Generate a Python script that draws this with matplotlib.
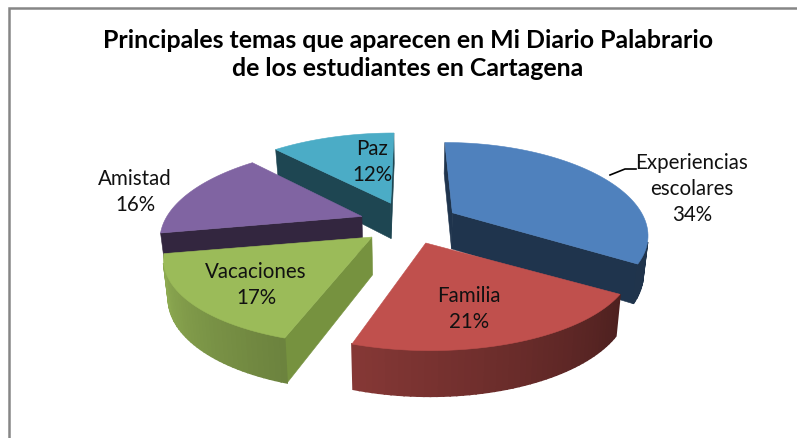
import numpy as np
import matplotlib
matplotlib.use("Agg")
import matplotlib.pyplot as plt
from matplotlib.patches import Polygon

# --- data ---
title_lines = ["Principales temas que aparecen en Mi Diario Palabrario",
               "de los estudiantes en Cartagena"]
categories = ["Experiencias\nescolares", "Familia", "Vacaciones", "Amistad", "Paz"]
values = [34, 21, 17, 16, 12]

# --- style ---
top_colors = ["#4F81BD", "#C0504D", "#9BBB59", "#8064A2", "#4BACC6"]
cut_colors = ["#1F344D", "#4E1E1C", "#76923F", "#33263F", "#1E4652"]
width_factors = [0.955, 1.02, 1.02, 0.985, 1.0]
draw_order = [4, 0, 3, 1, 2]
label_centers = [(692, 189), (469, 309), (256, 285), (135, 192), (372, 162)]
FONT = "Lato"

# --- projection of the exploded pie ---
CX, CY = 409.0, 223.0
A, B, K = 198.0, 85.0, 0.21
EXPLODE = 0.25


def shade(theta):
    return float(np.clip(0.40 + (theta - 122.0) * 0.0039, 0.40, 1.0))


def extrude(p):
    x, y = p
    return (CX + (x - CX) * 0.98, y + 36 + (y - 212) * 0.07)


def scale_color(c, f):
    rgb = np.array(matplotlib.colors.to_rgb(c))
    return tuple(rgb * f)


def front_facing(q):
    q = np.asarray(q)
    x, y = q[:, 0], q[:, 1]
    return np.sum(x * np.roll(y, -1) - np.roll(x, -1) * y) < 0


fig = plt.figure(figsize=(7.97, 4.38), dpi=100)
ax = fig.add_axes([0, 0, 1, 1])
ax.set_xlim(0, 797)
ax.set_ylim(438, 0)
ax.axis("off")

# chart frame (runs off the right and bottom of the picture)
ax.plot([800, 9.2, 9.2], [8, 8, 440], color="#868686", lw=1.8, solid_joinstyle="miter")

total = sum(values)
edges = np.concatenate([[0], np.cumsum(values)]) / total * 360.0


def slice_geometry(i):
    t0, t1 = edges[i], edges[i + 1]
    mid = np.radians((t0 + t1) / 2)
    ax0 = CX + A * EXPLODE * np.sin(mid)
    ay0 = CY - B * EXPLODE * np.cos(mid)
    thetas = np.linspace(t0, t1, max(int((t1 - t0) / 1.5), 2) + 1)
    r = np.radians(thetas)
    u, v = np.sin(r), np.cos(r)
    s = 1 / (1 + K * v)
    xs = CX + (ax0 - CX) * s + A * width_factors[i] * u * s
    ys = ay0 - B * v * s
    return (ax0, ay0), thetas, list(zip(xs, ys))


for i in draw_order:
    apex, thetas, rim = slice_geometry(i)
    z = 2 + draw_order.index(i) * 3
    # radial cut faces
    for a, b in ((apex, rim[0]), (rim[-1], apex)):
        q = [a, b, extrude(b), extrude(a)]
        if front_facing(q):
            ax.add_patch(Polygon(q, closed=True, fc=cut_colors[i], ec=cut_colors[i],
                                 lw=0.4, zorder=z))
    # outer rim with a gradient that follows the angle
    for j in range(len(rim) - 1):
        q = [rim[j], rim[j + 1], extrude(rim[j + 1]), extrude(rim[j])]
        if front_facing(q):
            col = scale_color(top_colors[i], shade((thetas[j] + thetas[j + 1]) / 2))
            ax.add_patch(Polygon(q, closed=True, fc=col, ec=col, lw=1.2, zorder=z + 1))
    # top
    ax.add_patch(Polygon([apex] + rim, closed=True, fc=top_colors[i], ec=top_colors[i],
                         lw=0.4, zorder=z + 2))

# data labels
for name, val, (x, y) in zip(categories, values, label_centers):
    ax.text(x, y, f"{name}\n{val}%", ha="center", va="center", fontsize=14.8,
            family=FONT, color="#111111", linespacing=1.4, zorder=30)

# leader line of the first label
ax.plot([610, 625, 636], [175, 169, 169], color="black", lw=1.2, zorder=30)

# title
ax.text(408.5, 40, title_lines[0], ha="center", va="center", fontsize=17.9,
        family=FONT, weight="bold", color="black")
ax.text(408, 68, title_lines[1], ha="center", va="center", fontsize=17.9,
        family=FONT, weight="bold", color="black")

fig.savefig("out.png", dpi=100, facecolor="white")
